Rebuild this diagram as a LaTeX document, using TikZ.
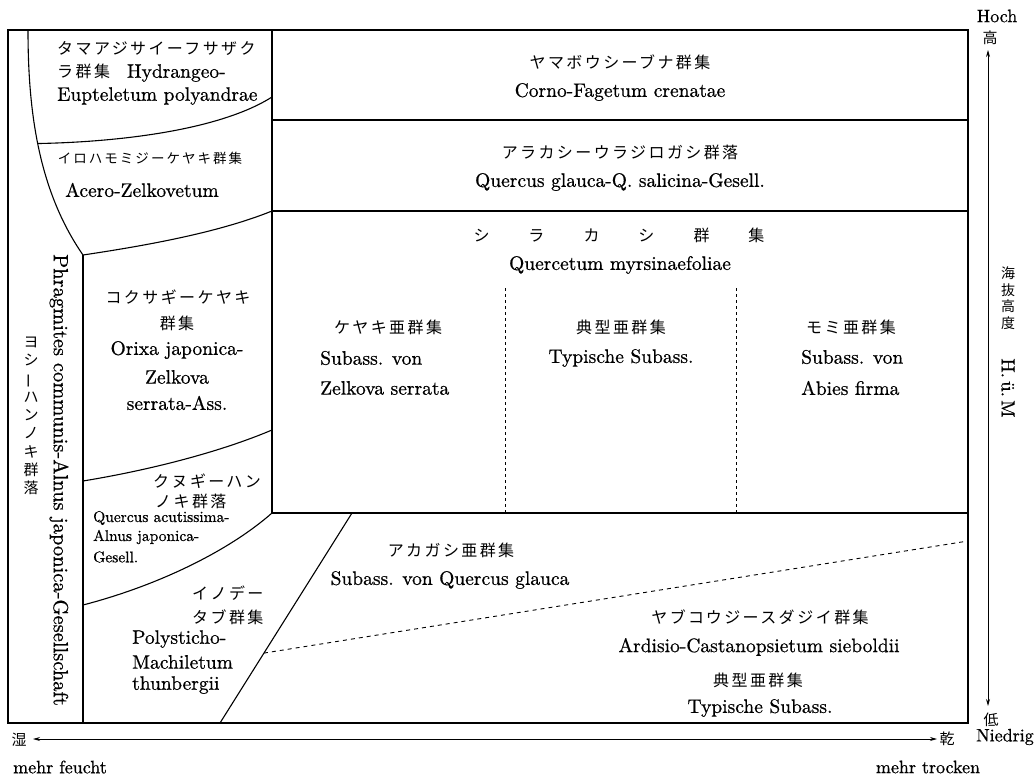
\documentclass[tikz,border=0pt]{standalone}
\usepackage{fontspec}
\usepackage{graphicx}
\usetikzlibrary{arrows.meta,calc}
\setmainfont{lmroman10-regular.otf}[FakeBold=0.7]
\newfontfamily\jpfont{Noto Sans CJK JP}[LetterSpace=15]
\newfontfamily\jpvfont{Noto Sans CJK JP}
\newcommand\Lfont{\fontsize{19.5}{22}\selectfont}
\newcommand\Sfont{\fontsize{15.5}{18}\selectfont}
\newcommand\Jfont{\jpfont\fontsize{16}{19}\selectfont}
\newcommand\Vfont{\jpvfont\fontsize{15}{18.3}\selectfont}
\newcommand\Afont{\fontsize{18}{21}\selectfont}
\tikzset{
  lab/.style={inner sep=0pt, font=\Lfont},
  slab/.style={inner sep=0pt, font=\Sfont},
  jl/.style={inner sep=0pt, font=\Jfont},
  alab/.style={inner sep=0pt, font=\Afont},
  bnd/.style={line width=1.1pt},
  dotv/.style={line width=0.9pt, dash pattern=on 2.5pt off 3.5pt},
  dshd/.style={line width=0.9pt, dash pattern=on 4pt off 4pt},
  axis/.style={line width=0.8pt, {Stealth[length=7pt,width=4pt]}-{Stealth[length=7pt,width=4pt]}},
}
\begin{document}
\begin{tikzpicture}[x=1pt,y=-1pt]
\useasboundingbox (0,0) rectangle (1035,781);
% frame
\coordinate (TL) at (8,30);
\coordinate (BR) at (968,723);
\draw[bnd] (TL) rectangle (BR);
% left column boundary curve
\coordinate (c0) at (28,30);
\coordinate (c1) at (83,255);
\draw[bnd] (c0) .. controls (28,110) and (38,190) .. (c1) coordinate[pos=0.48] (ctama);
\coordinate (c1b) at (83,723);
\draw[bnd] (c1) -- (c1b);
% main vertical line
\coordinate (v0) at (272,30);
\coordinate (v1) at (272,513);
\draw[bnd] (v0) -- (v1);
% boundaries
\coordinate (r97) at (272,97);
\draw[bnd] (ctama) .. controls (120,142) and (220,130) .. (r97);
\coordinate (h120a) at (272,120); \coordinate (h120b) at (968,120);
\coordinate (h211a) at (272,211); \coordinate (h211b) at (968,211);
\draw[bnd] (h120a) -- (h120b);
\draw[bnd] (h211a) -- (h211b);
\draw[bnd] (c1) .. controls (150,245) and (220,232) .. (h211a);
\coordinate (l481) at (83,481); \coordinate (r430) at (272,430);
\draw[bnd] (l481) .. controls (150,470) and (220,452) .. (r430);
\coordinate (l605) at (83,605);
\draw[bnd] (l605) .. controls (160,585) and (230,550) .. (v1);
\coordinate (h513b) at (968,513);
\draw[bnd] (v1) -- (h513b);
\coordinate (dgb) at (220,723); \coordinate (dgt) at (352,513);
\draw[bnd] (dgb) -- (dgt);
\coordinate (dsl) at ($(dgb)!0.333!(dgt)$);
\coordinate (dsr) at (968,541);
\draw[dshd] (dsl) -- (dsr);
\coordinate (d1t) at (505,288); \coordinate (d1b) at (505,513);
\coordinate (d2t) at (736,288); \coordinate (d2b) at (736,513);
\draw[dotv] (d1t) -- (d1b);
\draw[dotv] (d2t) -- (d2b);
% axes
\coordinate (ya) at (988,50); \coordinate (yb) at (988,706);
\draw[axis] (ya) -- (yb);
\coordinate (xa) at (33,739); \coordinate (xb) at (937,739);
\draw[axis] (xa) -- (xb);
% top-left texts
\node[jl, anchor=west] (t1) at (57,49) {タマアジサイーフサザク};
\node[lab, anchor=west] (t2) at (57,73) {{\Jfont ラ群集}\hspace{17pt}Hydrangeo-};
\node[lab, anchor=west] (t3) at (57,96) {Eupteletum polyandrae};
\node[jl, font=\jpfont\fontsize{13.5}{16}\selectfont] (t4) at (150,158) {イロハモミジーケヤキ群集};
\node[lab] (t5) at (142,190) {Acero-Zelkovetum};
\node[jl] (t6) at (178,297) {コクサギーケヤキ};
\node[jl] (t7) at (177,323) {群集};
\node[lab] (t8) at (177,350) {Orixa japonica-};
\node[lab] (t9) at (177,377) {Zelkova};
\node[lab] (t10) at (177,403) {serrata-Ass.};
\node[jl, anchor=west] (t11) at (153,481) {クヌギーハン};
\node[jl, anchor=west] (t12) at (155,501) {ノキ群落};
\node[slab, anchor=west] (t13) at (93,518) {Quercus acutissima-};
\node[slab, anchor=west] (t14) at (93,537) {Alnus japonica-};
\node[slab, anchor=west] (t15) at (93,557) {Gesell.};
\node[jl, anchor=west] (t16) at (192,593) {イノデー};
\node[jl, anchor=west] (t17) at (192,617) {タブ群集};
\node[lab, anchor=west] (t18) at (132,639) {Polysticho-};
\node[lab, anchor=west] (t19) at (132,662) {Machiletum};
\node[lab, anchor=west] (t20) at (132,685) {thunbergii};
% vertical left texts
\node[inner sep=0pt, font=\fontsize{20.5}{24}\selectfont, rotate=-90] (v1t) at (59,480) {Phragmites communis-Alnus japonica-Gesellschaft};
\node[inner sep=0pt, font=\Vfont, align=center] (v2t) at (31,416) {ヨ\\シ\\\rotatebox[origin=c]{90}{ー}\\ハ\\ン\\ノ\\キ\\群\\落};
% main texts
\node[jl] (m1) at (620,62) {ヤマボウシーブナ群集};
\node[lab] (m2) at (620,92) {Corno-Fagetum crenatae};
\node[jl] (m3) at (620,152) {アラカシーウラジロガシ群落};
\node[lab] (m4) at (620,182) {Quercus glauca-Q. salicina-Gesell.};
\node[jl] (m5) at (619,235) {シ\hspace{39pt}ラ\hspace{39pt}カ\hspace{39pt}シ\hspace{39pt}群\hspace{39pt}集};
\node[lab] (m6) at (620,265) {Quercetum myrsinaefoliae};
\node[jl] (m7) at (388,327) {ケヤキ亜群集};
\node[lab, anchor=west] (m8) at (320,358) {Subass. von};
\node[lab, anchor=west] (m9) at (320,388) {Zelkova serrata};
\node[jl] (m10) at (621,327) {典型亜群集};
\node[lab] (m11) at (621,358) {Typische Subass.};
\node[jl] (m12) at (851,327) {モミ亜群集};
\node[lab, anchor=west] (m13) at (801,357) {Subass. von};
\node[lab, anchor=west] (m14) at (801,388) {Abies firma};
\node[jl] (m15) at (451,550) {アカガシ亜群集};
\node[lab] (m16) at (450,580) {Subass. von Quercus glauca};
\node[jl] (m17) at (760,617) {ヤブコウジースダジイ群集};
\node[lab] (m18) at (759,647) {Ardisio-Castanopsietum sieboldii};
\node[jl] (m19) at (758,680) {典型亜群集};
\node[lab] (m20) at (760,708) {Typische Subass.};
% axis labels
\node[alab] (hoch) at (997,16) {Hoch};
\node[inner sep=0pt, font=\Vfont] (hi) at (990,38) {高};
\node[inner sep=0pt, font=\jpvfont\fontsize{14}{16.5}\selectfont, align=center] (alt) at (1008,298) {海\\抜\\高\\度};
\node[inner sep=0pt, font=\fontsize{19}{22}\selectfont, rotate=-90] (hum) at (1008,388) {H.\,ü.\,M};
\node[inner sep=0pt, font=\Vfont] (lo) at (991,720) {低};
\node[alab, anchor=west] (nied) at (976,737) {Niedrig};
\node[inner sep=0pt, font=\Vfont] (wet) at (19,740) {湿};
\node[inner sep=0pt, font=\Vfont] (dry) at (947,739) {乾};
\node[alab] (mf) at (60,767) {mehr feucht};
\node[alab] (mt) at (928,767) {mehr trocken};
\end{tikzpicture}
\end{document}
